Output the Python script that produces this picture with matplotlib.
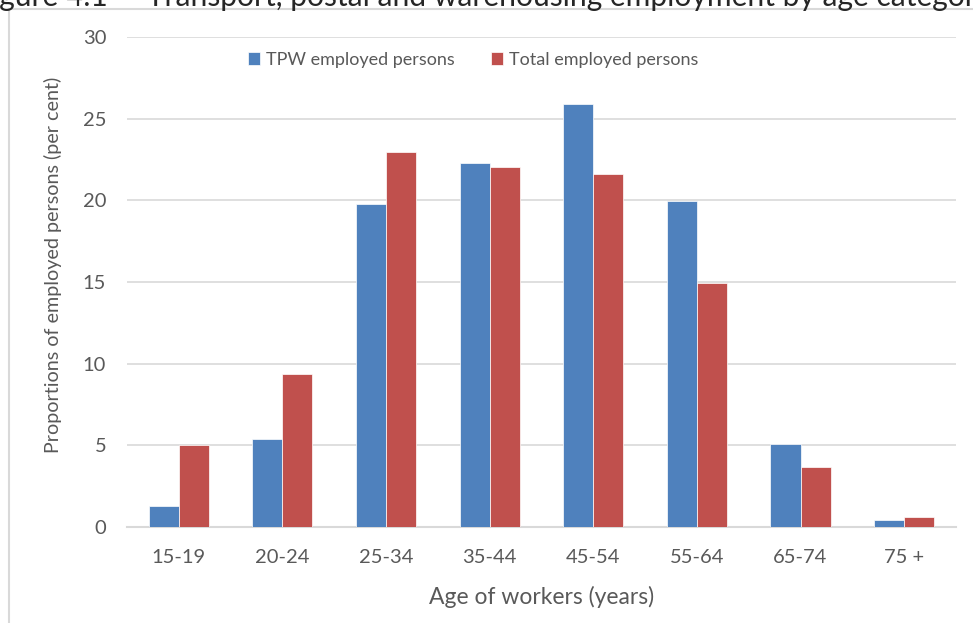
import matplotlib
matplotlib.use("Agg")
import matplotlib.pyplot as plt
from matplotlib.lines import Line2D
import numpy as np

plt.rcParams["font.family"] = ["Lato", "DejaVu Sans"]

# Data
age_groups = ["15-19", "20-24", "25-34", "35-44", "45-54", "55-64", "65-74", "75 +"]
tpw_employed = [1.3, 5.4, 19.8, 22.3, 25.9, 19.95, 5.1, 0.45]
total_employed = [5.0, 9.4, 22.95, 22.05, 21.6, 14.95, 3.7, 0.6]
series_labels = ["TPW employed persons", "Total employed persons"]

BLUE = "#4F81BD"
RED = "#C0504D"
GRID = "#D9D9D9"
TEXT = "#595959"

fig = plt.figure(figsize=(9.73, 6.23), dpi=100)
ax = fig.add_axes([0.1305, 0.154, 0.852, 0.7866])

x = np.arange(len(age_groups))
w = 0.29
ax.bar(x - w / 2, tpw_employed, w, color=BLUE, edgecolor="white", linewidth=0.5,
       label=series_labels[0], zorder=3)
ax.bar(x + w / 2, total_employed, w, color=RED, edgecolor="white", linewidth=0.5,
       label=series_labels[1], zorder=3)

ax.set_xlim(-0.5, len(age_groups) - 0.5)
ax.set_ylim(0, 30)
ax.set_yticks(range(0, 31, 5))
ax.set_xticks(x)
ax.set_xticklabels(age_groups)
ax.yaxis.grid(True, color=GRID, linewidth=1.2, zorder=0)
ax.set_axisbelow(True)
for s in ["top", "right", "left"]:
    ax.spines[s].set_visible(False)
ax.spines["bottom"].set_color(GRID)
ax.spines["bottom"].set_linewidth(1.5)
ax.tick_params(axis="both", length=0, labelsize=14.5, colors=TEXT)
ax.tick_params(axis="x", pad=16)
ax.tick_params(axis="y", pad=15)

ax.set_xlabel("Age of workers (years)", fontsize=16.5, color=TEXT)
ax.set_ylabel("Proportions of employed persons (per cent)", fontsize=14.2, color=TEXT)
ax.xaxis.set_label_coords(0.5, -0.12)
ax.yaxis.set_label_coords(-0.078, 0.535)

fig.legend(loc="center left", bbox_to_anchor=(0.238, 0.904), ncol=2, frameon=False,
           fontsize=13, labelcolor=TEXT, handlelength=0.7, handleheight=0.7,
           handletextpad=0.3, columnspacing=2.0)

# chart border (top and left edges visible)
fig.add_artist(Line2D([0.0095, 1.0], [0.985, 0.985], color=GRID, linewidth=1.5,
                      transform=fig.transFigure))
fig.add_artist(Line2D([0.0095, 0.0095], [0.0, 0.985], color=GRID, linewidth=1.5,
                      transform=fig.transFigure))

# clipped title from the page above
fig.text(-0.026, 0.9905, "Figure 4.1 \u2014 Transport, postal and warehousing employment by age category",
         fontsize=21.6, color="#262626", va="baseline", ha="left")

fig.savefig("out.png", dpi=100)
